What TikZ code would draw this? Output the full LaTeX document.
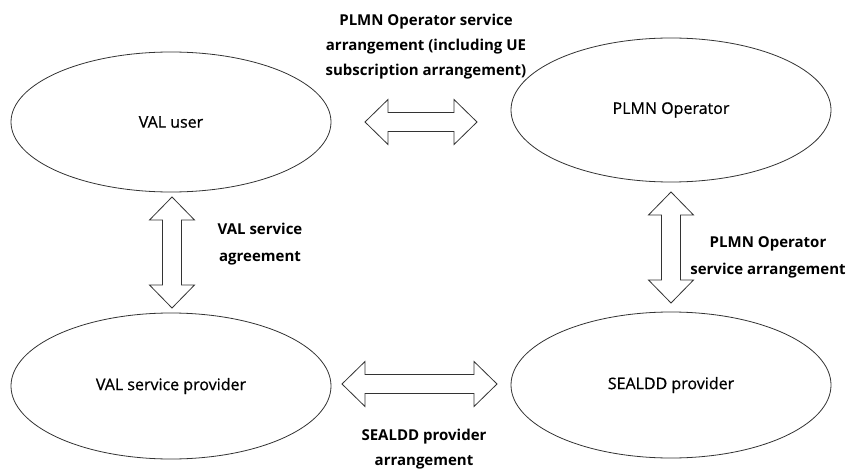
\documentclass[tikz,border=0pt]{standalone}
\usepackage{fontspec}
\setmainfont{Open Sans}
\newfontfamily\entfont[FakeBold=0.7]{Open Sans}
\usetikzlibrary{shapes.geometric}
\tikzset{
  ent/.style={draw=black!80, line width=0.8pt, ellipse, minimum width=320pt, inner sep=0pt, font=\entfont\fontsize{16}{18}\selectfont},
  lbl/.style={align=center, font=\fontsize{15}{25}\selectfont\bfseries},
  arrline/.style={draw=black!80, line width=0.8pt, fill=white, line join=miter},
  pics/dblarrow/.style={code={
    \draw[arrline] (-#1/2,0) -- ++(23,-22.5) -- ++(0,13) -- (#1/2-23,-9.5) -- ++(0,-13)
      -- (#1/2,0) -- ++(-23,22.5) -- ++(0,-13) -- (-#1/2+23,9.5) -- ++(0,13) -- cycle;}}
}
\begin{document}
\begin{tikzpicture}[x=1pt,y=-1pt]
\useasboundingbox[fill=white] (0,0) rectangle (853,470);
\node[ent, minimum height=140pt] (valuser) at (171,122) {VAL user};
\node[ent, minimum height=144pt] (plmn) at (671,110) {PLMN Operator};
\node[ent, minimum height=146pt] (valsp) at (171,386) {VAL service provider};
\node[ent, minimum height=146pt] (sealdd) at (671,385) {SEALDD provider};
\pic at (421,122) {dblarrow=112};
\pic[rotate=90] at (172,252.5) {dblarrow=111};
\pic[rotate=90] at (671,247.5) {dblarrow=111};
\pic at (419.5,384) {dblarrow=155};
\node[lbl] (l1) at (426,47) {PLMN Operator service\\arrangement (including UE\\subscription arrangement)};
\node[lbl, font=\fontsize{15}{27}\selectfont\bfseries] (l2) at (260,244) {VAL service\\agreement};
\node[lbl, font=\fontsize{15}{27}\selectfont\bfseries] (l3) at (768,257) {PLMN Operator\\service arrangement};
\node[lbl] (l4) at (424,449) {SEALDD provider\\arrangement};
\end{tikzpicture}
\end{document}
